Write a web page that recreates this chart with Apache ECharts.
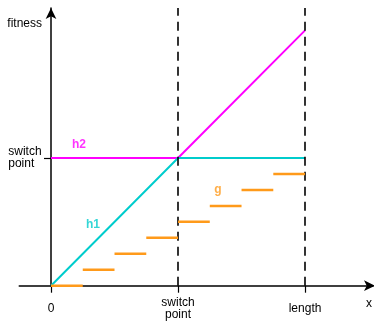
<!DOCTYPE html>
<html>
<head>
<meta charset="utf-8">
<script src="https://cdn.jsdelivr.net/npm/echarts@6/dist/echarts.min.js"></script>
<style>html,body{margin:0;padding:0;background:#fff}#c{width:374px;height:322px}</style>
</head>
<body>
<div id="c"></div>
<script>
// Data (units: switch point = 4, length = 8)
var xTickValues = [0, 4, 8];
var xTickLabels = ['0', 'switch\npoint', 'length'];
var yTickValues = [4];
var yTickLabels = ['switch\npoint'];
var h1Data = [[0, 0], [4, 4], [8, 4]];
var h2Data = [[0, 4], [4, 4], [8, 8]];
var gStarts = [0, 1, 2, 3, 4, 5, 6, 7];
var gLevels = [0, 0.5, 1, 1.5, 2, 2.5, 3, 3.5];
var dashedAt = [4, 8];
var seriesLabels = [
  { name: 'h2', value: [0.88, 4.41], color: '#ff00ff' },
  { name: 'h1', value: [1.32, 1.9], color: '#00cccc' },
  { name: 'g', value: [5.26, 3.0], color: '#ff9a1a' }
];

var gData = [];
for (var i = 0; i < gStarts.length; i++) {
  gData.push([gStarts[i], gLevels[i]]);
  gData.push([gStarts[i] + 1, gLevels[i]]);
  gData.push([gStarts[i] + 1, '-']);
}

var FONT = 'Liberation Sans, Arial, sans-serif';
var chart = echarts.init(document.getElementById('c'), null, { renderer: 'canvas' });
chart.setOption({
  animation: false,
  grid: { left: 19.25, right: 1, top: 8, bottom: 36.3, containLabel: false, outerBoundsMode: 'none' },
  xAxis: {
    type: 'value', min: -1, max: 10.14,
    name: 'x', nameLocation: 'end', nameGap: -4,
    nameTextStyle: { color: '#000', fontFamily: FONT, fontSize: 12, align: 'center', verticalAlign: 'top', padding: [12, 0, 0, 0] },
    splitLine: { show: false },
    axisLine: { onZero: false, symbol: ['none', 'arrow'], symbolSize: [8, 11], symbolOffset: [0, 2], lineStyle: { color: '#000', width: 1.5 } },
    axisTick: { show: true, customValues: xTickValues, length: 7, lineStyle: { color: '#000', width: 1.2 } },
    axisLabel: {
      customValues: xTickValues, margin: 23, verticalAlign: 'middle', lineHeight: 12,
      color: '#000', fontFamily: FONT, fontSize: 12,
      formatter: function (v) { var k = xTickValues.indexOf(v); return k >= 0 ? xTickLabels[k] : ''; }
    }
  },
  yAxis: {
    type: 'value', min: 0, max: 8.7,
    name: 'fitness', nameLocation: 'end', nameGap: -16,
    nameTextStyle: { color: '#000', fontFamily: FONT, fontSize: 12, align: 'right', verticalAlign: 'middle', padding: [0, 9, 0, 0] },
    splitLine: { show: false },
    axisLine: { onZero: true, symbol: ['none', 'arrow'], symbolSize: [8, 11], lineStyle: { color: '#000', width: 1.5 } },
    axisTick: { show: true, customValues: yTickValues, length: 7, lineStyle: { color: '#000', width: 1.2 } },
    axisLabel: {
      customValues: yTickValues, margin: -23,
      color: '#000', fontFamily: FONT, fontSize: 12,
      rich: { a: { width: 34, align: 'left', lineHeight: 12, fontFamily: FONT, fontSize: 12, color: '#000' } },
      formatter: function (v) {
        var k = yTickValues.indexOf(v);
        if (k < 0) return '';
        return yTickLabels[k].split('\n').map(function (s) { return '{a|' + s + '}'; }).join('\n');
      }
    }
  },
  series: [
    {
      type: 'line', data: h2Data, symbol: 'none', lineStyle: { color: '#ff00ff', width: 2 }, z: 3,
      markLine: {
        silent: true, symbol: 'none', label: { show: false },
        lineStyle: { color: '#000', type: [9, 6], width: 1.6 },
        data: dashedAt.map(function (v) { return { xAxis: v }; })
      }
    },
    { type: 'line', data: h1Data, symbol: 'none', lineStyle: { color: '#00cccc', width: 2 }, z: 4 },
    { type: 'line', data: gData, symbol: 'none', connectNulls: false, lineStyle: { color: '#ff9a1a', width: 2.5 }, z: 5 },
    {
      type: 'scatter', symbolSize: 0, z: 6,
      data: seriesLabels.map(function (d) {
        return { name: d.name, value: d.value, label: { color: d.color } };
      }),
      label: { show: true, position: 'inside', formatter: '{b}', fontFamily: FONT, fontSize: 12, fontWeight: 'bold' }
    }
  ]
});
</script>
</body>
</html>
